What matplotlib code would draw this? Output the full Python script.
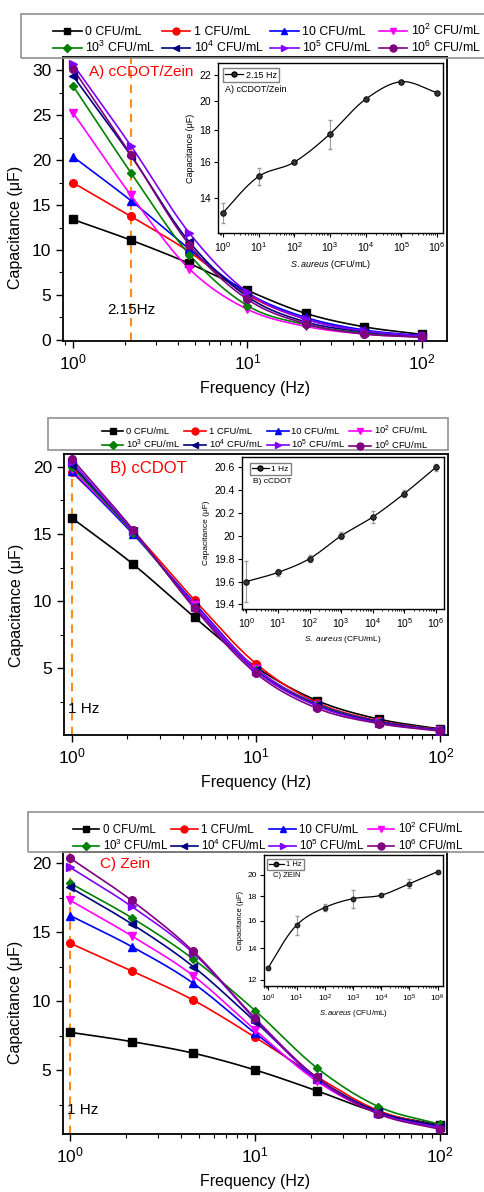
import matplotlib
matplotlib.use("Agg")
import matplotlib.pyplot as plt
from matplotlib.lines import Line2D
from matplotlib.patches import Rectangle
from matplotlib.ticker import MultipleLocator, LogLocator, FuncFormatter, NullLocator
import numpy as np

plt.rcParams["font.family"] = ["Liberation Sans", "DejaVu Sans"]
plt.rcParams["mathtext.fontset"] = "custom"
plt.rcParams["mathtext.rm"] = "Liberation Sans"
plt.rcParams["mathtext.it"] = "Liberation Sans:italic"
plt.rcParams["mathtext.bf"] = "Liberation Sans:bold"

# ---- data ----
freq = [1, 2.15, 4.64, 10, 21.5, 46.4, 100]
conc_labels = ["0 CFU/mL", "1 CFU/mL", "10 CFU/mL", "$10^2$ CFU/mL",
               "$10^3$ CFU/mL", "$10^4$ CFU/mL", "$10^5$ CFU/mL", "$10^6$ CFU/mL"]
colors = ["black", "red", "blue", "#FF00FF", "#008000", "#000080", "#8000FF", "#800080"]
markers = ["s", "o", "^", "v", "D", "<", ">", "o"]

# A) cCDOT/Zein, one row per concentration
cap_A = [
    [13.4, 11.1, 8.5, 5.5, 2.95, 1.45, 0.6],
    [17.5, 13.75, 9.8, 5.0, 2.3, 1.0, 0.4],
    [20.4, 15.5, 10.1, 5.2, 2.5, 1.1, 0.45],
    [25.3, 16.1, 7.9, 3.4, 1.5, 0.65, 0.3],
    [28.3, 18.6, 9.5, 3.8, 1.7, 0.75, 0.3],
    [29.4, 20.5, 10.9, 4.8, 2.0, 0.9, 0.35],
    [30.7, 21.6, 11.9, 5.3, 2.3, 1.0, 0.4],
    [30.2, 20.6, 10.6, 4.5, 1.8, 0.65, 0.3],
]
# B) cCDOT
cap_B = [
    [16.2, 12.76, 8.8, 5.1, 2.6, 1.23, 0.5],
    [19.6, 15.2, 10.08, 5.35, 2.45, 1.1, 0.45],
    [19.68, 15.0, 9.85, 5.0, 2.35, 1.05, 0.42],
    [19.8, 15.1, 9.7, 4.95, 2.3, 1.0, 0.42],
    [20.0, 15.1, 9.6, 4.85, 2.3, 1.0, 0.42],
    [20.16, 15.2, 9.6, 4.85, 2.25, 1.0, 0.4],
    [20.37, 15.2, 9.6, 4.8, 2.2, 0.95, 0.38],
    [20.6, 15.33, 9.46, 4.63, 2.03, 0.9, 0.34],
]
# C) Zein
cap_C = [
    [7.76, 7.09, 6.25, 5.04, 3.54, 1.95, 1.06],
    [14.2, 12.2, 10.08, 7.4, 4.56, 2.1, 0.95],
    [16.2, 13.96, 11.3, 7.7, 4.4, 2.0, 0.95],
    [17.3, 14.73, 11.84, 7.93, 4.24, 1.9, 0.9],
    [18.54, 16.04, 13.05, 9.33, 5.21, 2.39, 1.1],
    [18.23, 15.6, 12.5, 8.54, 4.5, 2.0, 0.95],
    [19.68, 16.86, 13.48, 8.7, 4.4, 1.9, 0.85],
    [20.35, 17.29, 13.6, 8.78, 4.5, 1.86, 0.75],
]

# insets: capacitance vs S. aureus concentration
inset_conc = [1, 10, 100, 1e3, 1e4, 1e5, 1e6]
inset_A_cap = [13.25, 15.15, 15.97, 17.71, 20.13, 21.47, 20.62]
inset_A_err = [0.5, 0.45, 0.12, 0.95, 0.1, 0.1, 0.08]
inset_B_cap = [19.60, 19.68, 19.80, 20.00, 20.165, 20.37, 20.60]
inset_B_err = [0.18, 0.03, 0.03, 0.03, 0.05, 0.03, 0.03]
inset_C_cap = [12.74, 15.65, 17.05, 17.80, 18.10, 19.14, 20.29]
inset_C_err = [0.1, 0.7, 0.3, 0.8, 0.1, 0.4, 0.1]

W, H = 484, 1192
fig = plt.figure(figsize=(W / 100, H / 100), dpi=100)


def px_rect(l, t, r, b):
    return [l / W, 1 - b / H, (r - l) / W, (b - t) / H]


def smooth(x, y, n=40):
    # cubic hermite through the points, in log10(x)
    lx = np.log10(np.asarray(x, float))
    y = np.asarray(y, float)
    m = np.gradient(y, lx)
    t = np.linspace(0, 1, n)
    h00 = 2 * t**3 - 3 * t**2 + 1
    h10 = t**3 - 2 * t**2 + t
    h01 = -2 * t**3 + 3 * t**2
    h11 = t**3 - t**2
    xs, ys = [], []
    for i in range(len(lx) - 1):
        h = lx[i + 1] - lx[i]
        xs.append(lx[i] + t * h)
        ys.append(h00 * y[i] + h10 * h * m[i] + h01 * y[i + 1] + h11 * h * m[i + 1])
    return 10 ** np.concatenate(xs), np.concatenate(ys)


def main_panel(rect, data, xlim, ylim, ms, title, title_xy, title_size,
               vtext, vtext_xy, vline_x, ylabel_y):
    ax = fig.add_axes(rect)
    for vals, c, mk in zip(data, colors, markers):
        xs, ys = smooth(freq, vals)
        ax.plot(xs, ys, color=c, lw=1.2, zorder=3)
        ax.plot(freq, vals, ls="none", marker=mk, color=c,
                ms=ms * (0.8 if mk == "D" else 1), zorder=4)
    ax.axvline(vline_x, color="#FF8C1A", ls=(0, (4, 3)), lw=1.5, zorder=2)
    ax.set_xscale("log")
    ax.set_xlim(*xlim)
    ax.set_ylim(*ylim)
    ax.yaxis.set_major_locator(MultipleLocator(5))
    ax.yaxis.set_minor_locator(MultipleLocator(2.5))
    ax.xaxis.set_minor_locator(LogLocator(base=10, subs=np.arange(2, 10), numticks=20))
    ax.tick_params(which="both", direction="out", top=False, right=False, labelsize=12.5)
    ax.tick_params(which="major", length=5, width=1)
    ax.tick_params(which="minor", length=3, width=0.8)
    for sp in ax.spines.values():
        sp.set_linewidth(1.3)
    ax.set_xlabel("Frequency (Hz)", fontsize=11.5, labelpad=6)
    ax.set_ylabel("Capacitance (\u03bcF)", fontsize=11.5)
    ax.yaxis.set_label_coords(-0.105, ylabel_y)
    ax.text(*title_xy, title, color="red", fontsize=title_size,
            transform=ax.transAxes, va="center", ha="left")
    ax.text(*vtext_xy, vtext, fontsize=11, transform=ax.transAxes,
            va="center", ha="left")
    return ax


def top_legend(cx, cy, box, fs, colsp):
    handles = [Line2D([], [], color=c, marker=mk, lw=1.2,
                      ms=5 * (0.8 if mk == "D" else 1))
               for c, mk in zip(colors, markers)]
    order = [0, 4, 1, 5, 2, 6, 3, 7]
    fig.legend([handles[i] for i in order], [conc_labels[i] for i in order],
               loc="center", bbox_to_anchor=(cx / W, 1 - cy / H), ncol=4,
               frameon=False, fontsize=fs, handlelength=2.3, handletextpad=0.3,
               columnspacing=colsp, labelspacing=0.15, borderpad=0)
    l, t, r, b = box
    fig.patches.append(Rectangle((l / W, 1 - b / H), (r - l) / W, (b - t) / H,
                                 transform=fig.transFigure, fill=False,
                                 edgecolor="#909090", lw=1.2, zorder=0))


def inset(rect, cap, err, xlim, ylim, yticks, ylog, label, tag, leg_xy, tag_xy,
          fs_tick, fs_lab, ms, xlab):
    ax = fig.add_axes(rect)
    xs, ys = smooth(inset_conc, cap)
    ax.plot(xs, ys, color="black", lw=0.9)
    ax.errorbar(inset_conc, cap, yerr=err, fmt="none", ecolor="#9a9a9a",
                elinewidth=0.8, capsize=1.5)
    ax.plot(inset_conc, cap, ls="none", marker="o", ms=ms,
            mfc="#333333", mec="black", mew=0.6)
    ax.set_xscale("log")
    if ylog:
        ax.set_yscale("log")
    ax.set_xlim(*xlim)
    ax.set_ylim(*ylim)
    ax.set_xticks(inset_conc)
    ax.xaxis.set_minor_locator(LogLocator(base=10, subs=np.arange(2, 10), numticks=30))
    ax.set_yticks(yticks)
    ax.yaxis.set_major_formatter(FuncFormatter(lambda v, p: f"{v:g}"))
    ax.yaxis.set_minor_locator(NullLocator())
    ax.tick_params(which="both", direction="out", top=False, right=False,
                   labelsize=fs_tick, pad=2)
    ax.tick_params(which="major", length=3, width=0.8)
    ax.tick_params(which="minor", length=1.5, width=0.6)
    for sp in ax.spines.values():
        sp.set_linewidth(1.0)
    ax.set_xlabel(xlab, fontsize=fs_lab, labelpad=3)
    ax.set_ylabel("Capacitance (\u03bcF)", fontsize=fs_lab, labelpad=3)
    ax.legend([Line2D([], [], color="black", lw=0.9, marker="o", ms=ms * 0.9,
                      mfc="#333333", mec="black")], [label],
              loc="upper left", bbox_to_anchor=leg_xy, fontsize=fs_lab,
              fancybox=False, edgecolor="#808080", framealpha=1,
              handlelength=2.0, handletextpad=0.3, borderpad=0.25,
              borderaxespad=0)
    ax.text(*tag_xy, tag, fontsize=fs_lab, transform=ax.transAxes,
            va="center", ha="left")
    return ax


# ---- panel A ----
main_panel(px_rect(63, 57, 447, 340.7), cap_A, (0.877, 139), (-0.1, 31.5), 5.5,
           "A) cCDOT/Zein", (0.068, 0.947), 11, "2.15Hz", (0.115, 0.107), 2.15, 0.40)
top_legend(267, 39, (20.7, 13.7, 490, 58), 8.9, 0.5)
inset(px_rect(218, 63, 443, 233), inset_A_cap, inset_A_err, (0.72, 1.48e6),
      (12.3, 23.0), [14, 16, 18, 20, 22], True, "2.15 Hz", "A) cCDOT/Zein",
      (0.021, 0.969), (0.031, 0.845), 7.5, 6.5, 4,
      "$\\mathit{S.aureus}$ (CFU/mL)")

# ---- panel B ----
main_panel(px_rect(64, 454, 447.7, 735), cap_B, (0.908, 109.6), (0.05, 20.95), 5.5,
           "B) cCDOT", (0.12, 0.95), 12, "1 Hz", (0.01, 0.0925), 1, 0.463)
top_legend(265, 438, (48, 418, 448, 450), 6.8, 0.4)
inset(px_rect(242, 457, 444, 609), inset_B_cap, inset_B_err, (0.73, 1.8e6),
      (19.36, 20.69), [19.4, 19.6, 19.8, 20.0, 20.2, 20.4, 20.6], False,
      "1 Hz", "B) cCDOT", (0.04, 0.96), (0.054, 0.8375), 7.5, 6, 4,
      "$\\mathit{S.\\ aureus}$ (CFU/mL)")

# ---- panel C ----
main_panel(px_rect(63, 852, 447, 1134), cap_C, (0.916, 109), (0.41, 20.79), 5.5,
           "C) Zein", (0.096, 0.957), 11, "1 Hz", (0.0104, 0.085), 1, 0.465)
top_legend(268, 836.5, (28, 812, 490, 852), 8.3, 0.25)
inset(px_rect(264, 855, 443, 986), inset_C_cap, inset_C_err, (0.70, 1.55e6),
      (11.65, 22.0), [12, 14, 16, 18, 20], True, "1 Hz", "C) ZEIN",
      (0.015, 0.97), (0.05, 0.842), 6, 5.5, 3.5,
      "$\\mathit{S.aureus}$ (CFU/mL)")

plt.savefig("out.png", dpi=100)
